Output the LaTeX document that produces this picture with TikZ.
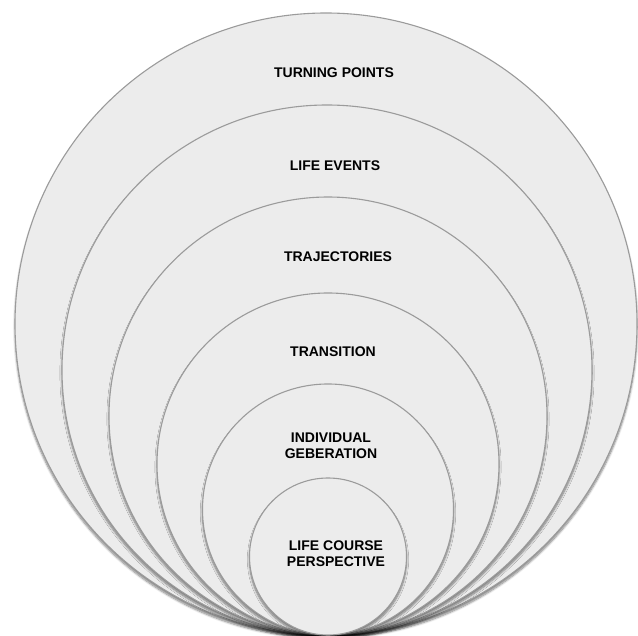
\documentclass[tikz,border=0pt]{standalone}
\usepackage{fontspec}
\setmainfont{Liberation Sans}
\usetikzlibrary{shadows.blur}
\definecolor{discfill}{RGB}{236,236,236}
\definecolor{discline}{RGB}{155,155,155}

\begin{document}
\begin{tikzpicture}[x=1pt,y=-1pt,
  disc/.style={fill=discfill, draw=discline, line width=1.1pt,
    blur shadow={shadow xshift=0pt, shadow yshift=-3pt, shadow blur steps=8, shadow opacity=50}},
  lbl/.style={font=\fontsize{14}{16}\selectfont\bfseries, align=center}]
\useasboundingbox (0,0) rectangle (638,636);
% nested discs, all touching at the bottom
\foreach \cx/\r in {326/311, 327/265, 328/219, 328/171, 328/125.5, 328/78.5}
  \path[disc] (\cx,635-\r) circle (\r pt);
\node[lbl] (turning) at (334,73) {TURNING POINTS};
\node[lbl] (events) at (335,166) {LIFE EVENTS};
\node[lbl] (traject) at (338,257) {TRAJECTORIES};
\node[lbl] (transit) at (333,352) {TRANSITION};
\node[lbl] (individ) at (331,446) {INDIVIDUAL\\GEBERATION};
\node[lbl] (course) at (336,554) {LIFE COURSE\\PERSPECTIVE};
\end{tikzpicture}
\end{document}
